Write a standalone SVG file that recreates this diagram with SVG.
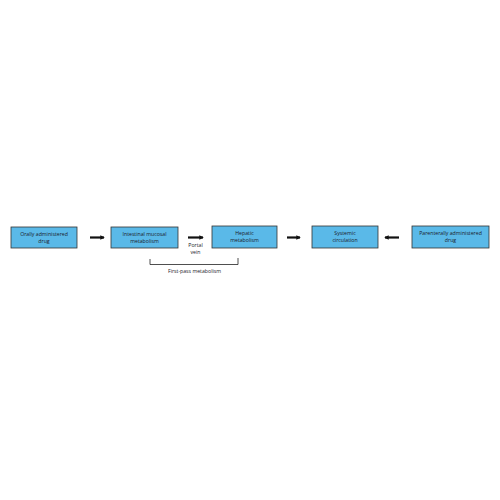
<svg xmlns="http://www.w3.org/2000/svg" width="500" height="500" viewBox="0 0 500 500">
<style>
.box{fill:#5ab9e8;stroke:#333;stroke-width:0.8}
.t{font-family:"Open Sans","Liberation Sans",sans-serif;font-size:5.2px;fill:#1a1a2a;text-anchor:middle}
.arr{stroke:#111;stroke-width:2.2;fill:none}
</style>
<defs>
<marker id="ah" viewBox="0 0 6 6" refX="5" refY="3" markerWidth="2" markerHeight="2" orient="auto"><path d="M0,0 L6,3 L0,6 Z" fill="#111"/></marker>
</defs>
<rect width="500" height="500" fill="#fff"/>
<g id="oral"><rect class="box" x="11" y="227" width="66" height="21"/><text class="t" x="44" y="235.5">Orally  administered</text><text class="t" x="44" y="242.5">drug</text></g>
<g id="intestinal"><rect class="box" x="111" y="227" width="67" height="21"/><text class="t" x="144.5" y="235.5">Intestinal  mucosal</text><text class="t" x="144.5" y="242.5">metabolism</text></g>
<g id="hepatic"><rect class="box" x="212" y="226" width="65" height="22"/><text class="t" x="244.5" y="235">Hepatic</text><text class="t" x="244.5" y="242">metabolism</text></g>
<g id="systemic"><rect class="box" x="312" y="226" width="66" height="22"/><text class="t" x="345" y="235">Systemic</text><text class="t" x="345" y="242">circulation</text></g>
<g id="parenteral"><rect class="box" x="412" y="226" width="77" height="22"/><text class="t" x="450.5" y="235">Parenterally  administered</text><text class="t" x="450.5" y="242">drug</text></g>
<g id="connectors">
<line class="arr" x1="90" y1="237.5" x2="104" y2="237.5" marker-end="url(#ah)"/>
<line class="arr" x1="188" y1="237.5" x2="203" y2="237.5" marker-end="url(#ah)"/>
<line class="arr" x1="287" y1="237.5" x2="300" y2="237.5" marker-end="url(#ah)"/>
<line class="arr" x1="399" y1="237.5" x2="385" y2="237.5" marker-end="url(#ah)"/>
<path d="M150,259 V264.5 H238 V258" fill="none" stroke="#222" stroke-width="0.8"/>
</g>
<text class="t" x="195.5" y="247">Portal</text>
<text class="t" x="195.5" y="254">vein</text>
<text class="t" x="194.5" y="273">First-pass metabolism</text>
</svg>
